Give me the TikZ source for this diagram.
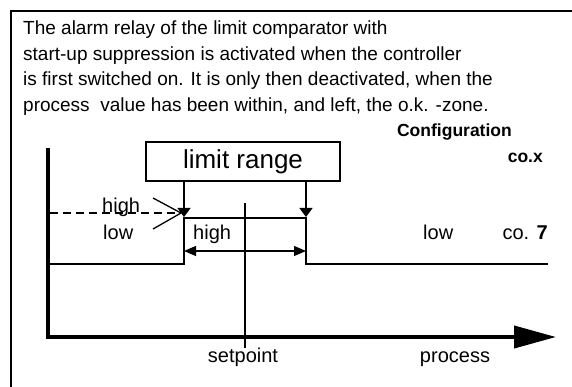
\documentclass[tikz,border=0pt]{standalone}
\usepackage{fontspec}
\setmainfont{Liberation Sans}
\usetikzlibrary{arrows.meta, positioning}

\begin{document}
\begin{tikzpicture}[x=1pt, y=-1pt]
    \tikzstyle{body}=[inner sep=0pt, align=left, font=\fontsize{19}{25.5}\selectfont]
    \tikzstyle{lab}=[inner sep=0pt, font=\fontsize{20}{24}\selectfont]
    \tikzstyle{conf}=[inner sep=0pt, font=\fontsize{17.5}{21}\selectfont\bfseries]
    \tikzstyle{range box}=[draw, line width=1.4pt, minimum width=194pt, minimum height=39pt, inner sep=0pt, font=\fontsize{26}{30}\selectfont]
    \tikzstyle{relay}=[line width=2.5pt]
    \tikzstyle{axis}=[line width=4pt]
    \tikzstyle{pointer}=[line width=1.3pt]

    \useasboundingbox (0,0) rectangle (572,387);

    % outer frame
    \draw[line width=2pt] (11,387) -- (11,11) -- (572,11);

    % description
    \node[body, anchor=north west] (descr) at (23,21) {The alarm relay of the limit comparator with\\start-up suppression is activated when the controller\\is first switched on. It is only then deactivated, when the\\process\ \ value has been within, and left, the o.k. -zone.};
    \node[conf, anchor=base east] (conf) at (512,137) {Configuration};
    \node[conf, anchor=base east] (cox) at (543,163) {co.x};

    % limit range box
    \node[range box] (range) at (243,161.5) {limit range};

    % axes
    \coordinate (y-top) at (48,148);
    \coordinate (origin) at (48,337);
    \coordinate (x-end) at (556,337);
    \draw[axis, -{Triangle[length=42pt, width=22pt]}] (y-top) -- (origin) -- (x-end);

    % relay characteristic
    \coordinate (lo-left) at (48,264);
    \coordinate (sw-low) at (184,264);
    \coordinate (sw-high) at (184,218);
    \coordinate (sw2-high) at (306,218);
    \coordinate (sw2-low) at (306,264);
    \coordinate (lo-right) at (548,264);
    \draw[relay] (lo-left) -- (sw-low) -- (sw-high) -- (sw2-high) -- (sw2-low) -- (lo-right);

    % limits from the box
    \coordinate (lim-l) at (184,217);
    \coordinate (lim-r) at (306,217);
    \draw[pointer, -{Triangle[length=9pt, width=13pt]}] (range.south -| lim-l) -- (lim-l);
    \draw[pointer, -{Triangle[length=9pt, width=13pt]}] (range.south -| lim-r) -- (lim-r);

    % hysteresis
    \coordinate (hy-l) at (184,251);
    \coordinate (hy-r) at (306,251);
    \draw[pointer, {Triangle[length=12pt, width=10pt]}-{Triangle[length=12pt, width=10pt]}] (hy-l) -- (hy-r);

    % setpoint
    \coordinate (sp-top) at (245,203);
    \coordinate (sp-bot) at (245,348);
    \draw[line width=1.6pt] (sp-top) -- (sp-bot);

    % start-up level
    \coordinate (st-a) at (50,213);
    \coordinate (st-b) at (180,213);
    \draw[pointer, dash pattern=on 8pt off 5pt] (st-a) -- (st-b);

    % labels
    \node[lab, anchor=base west] (high-l) at (102,213) {high};
    \node[lab, anchor=base west] (low-l) at (103,239) {low};
    \coordinate (hl-a) at (153,198);
    \coordinate (ll-a) at (153,229);
    \coordinate (meet) at (181,213);
    \draw[pointer] (hl-a) -- (meet);
    \draw[pointer] (ll-a) -- (meet);
    \node[lab, anchor=base west] (high-m) at (193,239) {high};
    \node[lab, anchor=base west] (low-r) at (423,239) {low};
    \node[lab, anchor=base east] (co7) at (548,239) {co. \textbf{7}};
    \node[lab, anchor=base] (setpoint) at (243,362) {setpoint};
    \node[lab, anchor=base] (process) at (455,362) {process};
\end{tikzpicture}
\end{document}
